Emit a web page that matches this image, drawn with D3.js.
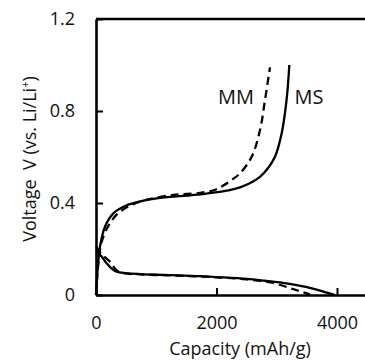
<!DOCTYPE html>
<html>
<head>
<meta charset="utf-8">
<script src="https://cdn.jsdelivr.net/npm/d3@7"></script>
<style>
  body { margin: 0; background: #fff; }
  text { font-family: "Open Sans", sans-serif; fill: #111; }
</style>
</head>
<body>
<div id="chart"></div>
<script>
// capacity (mAh/g) and voltage (V)
const msChargeCap = [0, 30, 66, 149, 288, 509, 750, 1007, 1394, 1700, 1947, 2200, 2390, 2560, 2722, 2850, 2971, 3082, 3163, 3209];
const msChargeV   = [0, 0.12, 0.21, 0.297, 0.355, 0.39, 0.408, 0.42, 0.43, 0.436, 0.445, 0.455, 0.468, 0.487, 0.514, 0.55, 0.601, 0.703, 0.848, 1.0];

const mmChargeCap = [0, 40, 94, 232, 398, 730, 1283, 1700, 1900, 2000, 2113, 2250, 2390, 2584, 2722, 2805, 2888];
const mmChargeV   = [0, 0.14, 0.232, 0.312, 0.362, 0.406, 0.435, 0.443, 0.452, 0.46, 0.476, 0.5, 0.529, 0.601, 0.717, 0.848, 0.99];

const msDischCap = [0, 100, 177, 260, 343, 500, 730, 1000, 1394, 1726, 2003, 2500, 2800, 3100, 3331, 3600, 3830, 3967];
const msDischV   = [0.195, 0.165, 0.138, 0.115, 0.101, 0.095, 0.091, 0.088, 0.085, 0.082, 0.078, 0.07, 0.062, 0.053, 0.043, 0.028, 0.01, 0];

const mmDischCap = [0, 100, 232, 330, 450, 730, 1000, 1500, 2000, 2500, 2900, 3220, 3400, 3550];
const mmDischV   = [0.21, 0.175, 0.145, 0.11, 0.095, 0.09, 0.087, 0.083, 0.077, 0.068, 0.055, 0.03, 0.015, 0.003];

const xTicks = [0, 2000, 4000];
const yTicks = [0, 0.4, 0.8, 1.2];

const width = 365, height = 360;
const plotLeft = 96, plotTop = 19, plotBottom = 295;

const svg = d3.select("#chart").append("svg")
    .attr("width", width)
    .attr("height", height);

const x = d3.scaleLinear().domain([0, 4500]).range([plotLeft, plotLeft + 4500 * 0.06025]);
const y = d3.scaleLinear().domain([0, 1.2]).range([plotBottom, plotTop]);

function zip(cs, vs) {
    return cs.map((c, i) => ({c: c, v: vs[i]}));
}

const line = d3.line()
    .x(d => x(d.c))
    .y(d => y(d.v))
    .curve(d3.curveCatmullRom.alpha(0.5));

const series = [
    {pts: zip(msDischCap, msDischV), dash: null},
    {pts: zip(mmDischCap, mmDischV), dash: "8,5"},
    {pts: zip(msChargeCap, msChargeV), dash: null},
    {pts: zip(mmChargeCap, mmChargeV), dash: "8,5"}
];

svg.selectAll("path.curve")
    .data(series)
    .enter().append("path")
    .attr("class", "curve")
    .attr("d", d => line(d.pts))
    .attr("fill", "none")
    .attr("stroke", "#000")
    .attr("stroke-width", 2.3)
    .attr("stroke-dasharray", d => d.dash);

// axes, ticks point inward
const xAxis = svg.append("g")
    .attr("transform", "translate(0," + plotBottom + ")")
    .call(d3.axisBottom(x).tickValues(xTicks).tickSizeInner(-7).tickSizeOuter(0).tickPadding(21)
        .tickFormat(d3.format("d")));

const yAxis = svg.append("g")
    .attr("transform", "translate(" + plotLeft + ",0)")
    .call(d3.axisLeft(y).tickValues(yTicks).tickSizeInner(-7).tickSizeOuter(0).tickPadding(21)
        .tickFormat(d => d === 0 ? "0" : d3.format(".1f")(d)));

[xAxis, yAxis].forEach(g => {
    g.select(".domain").attr("stroke", "#000").attr("stroke-width", 2.6);
    g.selectAll(".tick line").attr("stroke", "#000").attr("stroke-width", 2);
    g.selectAll(".tick text").attr("font-size", 18).attr("font-family", "Open Sans, sans-serif").attr("fill", "#111");
});

// top frame line
svg.append("line")
    .attr("x1", x(0)).attr("x2", x(4500))
    .attr("y1", y(1.2)).attr("y2", y(1.2))
    .attr("stroke", "#000").attr("stroke-width", 2.6);

// axis titles
svg.append("text")
    .attr("x", 240)
    .attr("y", 355)
    .attr("text-anchor", "middle")
    .attr("font-size", 18)
    .text("Capacity (mAh/g)");

const yTitle = svg.append("text")
    .attr("transform", "translate(36," + ((plotTop + plotBottom) / 2 + 2) + ") rotate(-90)")
    .attr("text-anchor", "middle")
    .attr("font-size", 18)
    .attr("xml:space", "preserve");
yTitle.append("tspan").text("Voltage  V (vs. Li/Li");
yTitle.append("tspan").attr("font-size", 11).attr("dy", -7).text("+");
yTitle.append("tspan").attr("dy", 7).text(")");

// series labels
svg.append("text")
    .attr("x", 236).attr("y", 104)
    .attr("text-anchor", "middle")
    .attr("font-size", 20)
    .text("MM");
svg.append("text")
    .attr("x", 309).attr("y", 104)
    .attr("text-anchor", "middle")
    .attr("font-size", 20)
    .text("MS");
</script>
</body>
</html>
